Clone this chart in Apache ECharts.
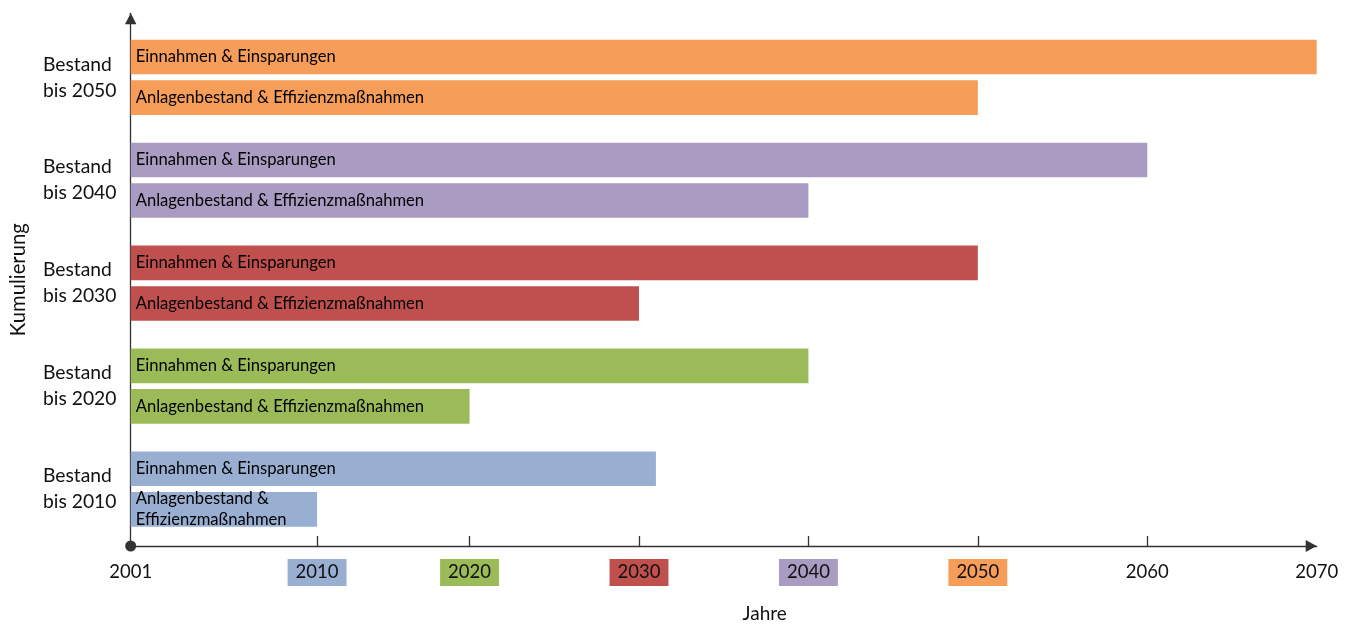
<!DOCTYPE html>
<html>
<head>
<meta charset="utf-8">
<title>Kumulierung</title>
<script src="https://cdn.jsdelivr.net/npm/echarts@6/dist/echarts.min.js"></script>
<style>
  html, body { margin: 0; padding: 0; background: #ffffff; }
  #chart { width: 1355px; height: 628px; }
</style>
</head>
<body>
<div id="chart"></div>
<script>
// Cumulated stock groups, bottom to top
const categories = ['Bestand\nbis 2010', 'Bestand\nbis 2020', 'Bestand\nbis 2030', 'Bestand\nbis 2040', 'Bestand\nbis 2050'];
// End year of each bar (all bars start at the axis origin)
const einnahmenEnd = [2031, 2040, 2050, 2060, 2070];
const anlagenEnd = [2011, 2020, 2030, 2040, 2050];
const seriesNames = ['Einnahmen & Einsparungen', 'Anlagenbestand & Effizienzmaßnahmen'];
const groupColors = ['#98AFD1', '#9BBB59', '#C0504D', '#A99BC1', '#F59D59'];
// Year axis: tick positions and the text printed at them
const labelValues = [2000, 2011, 2020, 2030, 2040, 2050, 2060, 2070];
const labelTexts = ['2001', '2010', '2020', '2030', '2040', '2050', '2060', '2070'];
const labelBoxColors = [null, '#98AFD1', '#9BBB59', '#C0504D', '#A99BC1', '#F59D59', null, null];
const tickValues = [2011, 2020, 2030, 2040, 2050, 2060];

const FONT = 'Lato';
const AXIS_COLOR = '#333333';
const TEXT_COLOR = '#111111';

const rich = {
  p: { fontSize: 18.5, lineHeight: 18, padding: [4, 8, 4, 8], color: TEXT_COLOR, fontFamily: FONT }
};
labelBoxColors.forEach((c, i) => {
  if (c) {
    rich['b' + i] = { fontSize: 18.5, lineHeight: 18, padding: [4, 8, 4, 8], color: TEXT_COLOR, backgroundColor: c, fontFamily: FONT };
  }
});

const barLabel = {
  show: true,
  position: 'insideLeft',
  distance: 5,
  formatter: '{a}',
  fontSize: 16.6,
  fontFamily: FONT,
  color: '#000000'
};

const einnahmenData = einnahmenEnd.map((v, i) => ({ value: v, itemStyle: { color: groupColors[i] } }));
const anlagenData = anlagenEnd.map((v, i) => {
  const item = { value: v, itemStyle: { color: groupColors[i] } };
  if (i === 0) {
    // short bar: wrap the name onto two lines
    item.label = { width: 175, overflow: 'break', lineHeight: 21 };
  }
  return item;
});

const option = {
  animation: false,
  textStyle: { fontFamily: FONT },
  grid: [
    { left: 130.7, right: 38.3, top: 13.3, bottom: 82 },
    { left: 130.7, right: 38.3, top: 25.9, bottom: 87.5 }
  ],
  xAxis: [
    {
      gridIndex: 0,
      type: 'value',
      min: 2000,
      max: 2070,
      name: 'Jahre',
      nameLocation: 'middle',
      nameGap: 58,
      nameTextStyle: { fontSize: 19, color: TEXT_COLOR, fontFamily: FONT, padding: [0, 0, 0, 82] },
      splitLine: { show: false },
      axisLine: {
        onZero: false,
        lineStyle: { color: AXIS_COLOR, width: 1.3 },
        symbol: ['none', 'triangle'],
        symbolSize: [12, 11],
        symbolOffset: [0, -5.5]
      },
      axisTick: {
        show: true,
        inside: true,
        length: 10,
        customValues: tickValues,
        lineStyle: { color: AXIS_COLOR, width: 1.3 }
      },
      axisLabel: {
        show: true,
        margin: 17.5,
        customValues: labelValues,
        formatter: function (v) {
          const i = labelValues.indexOf(v);
          if (i < 0) return '';
          return labelBoxColors[i] ? '{b' + i + '|' + labelTexts[i] + '}' : '{p|' + labelTexts[i] + '}';
        },
        rich: rich
      }
    },
    { gridIndex: 1, type: 'value', min: 2000, max: 2070, show: false, splitLine: { show: false } }
  ],
  yAxis: [
    {
      gridIndex: 0,
      type: 'value',
      min: 0,
      max: 1,
      name: 'Kumulierung',
      nameLocation: 'middle',
      nameGap: 102,
      nameTextStyle: { fontSize: 20.3, color: TEXT_COLOR, fontFamily: FONT },
      splitLine: { show: false },
      axisTick: { show: false },
      axisLabel: { show: false },
      axisLine: {
        show: true,
        onZero: false,
        lineStyle: { color: AXIS_COLOR, width: 1.3 },
        symbol: ['circle', 'triangle'],
        symbolSize: [11.5, 11],
        symbolOffset: [0, -5.5]
      }
    },
    {
      gridIndex: 1,
      type: 'category',
      data: categories,
      axisLine: { show: false },
      axisTick: { show: false },
      splitLine: { show: false },
      axisLabel: {
        margin: 87.7,
        align: 'left',
        fontSize: 19.3,
        lineHeight: 26,
        color: TEXT_COLOR,
        fontFamily: FONT
      }
    }
  ],
  series: [
    {
      type: 'bar',
      name: seriesNames[0],
      xAxisIndex: 1,
      yAxisIndex: 1,
      barWidth: 34.6,
      barGap: '17.3%',
      data: einnahmenData,
      label: barLabel
    },
    {
      type: 'bar',
      name: seriesNames[1],
      xAxisIndex: 1,
      yAxisIndex: 1,
      barWidth: 34.6,
      barGap: '17.3%',
      data: anlagenData,
      label: barLabel
    }
  ]
};

const chart = echarts.init(document.getElementById('chart'), null, { renderer: 'canvas' });
chart.setOption(option);
</script>
</body>
</html>
